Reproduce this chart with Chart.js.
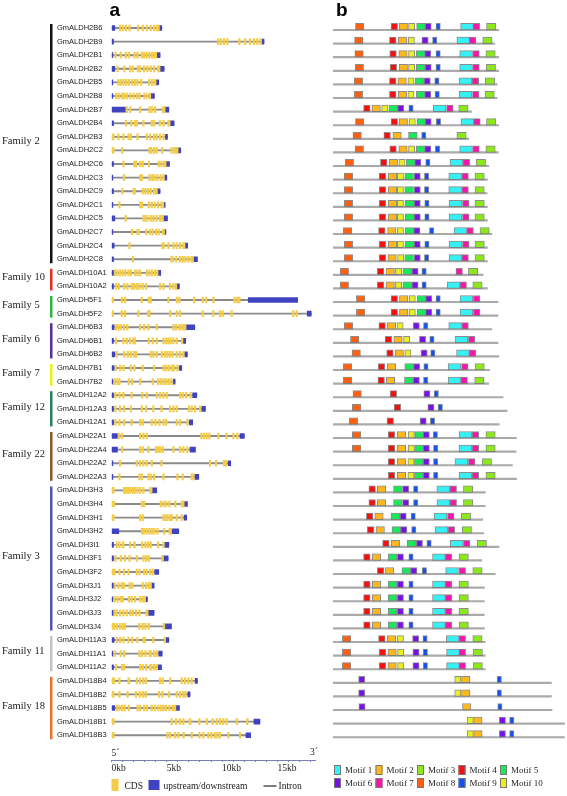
<!DOCTYPE html>
<html>
<head>
<meta charset="utf-8">
<script src="https://cdn.jsdelivr.net/npm/chart.js@4.4.1/dist/chart.umd.min.js"></script>
<style>
html, body { margin: 0; padding: 0; background: #fff; width: 567px; height: 796px; overflow: hidden; }
#gene { position: absolute; left: 0; top: 0; }
#motif { position: absolute; left: 325px; top: 0; }
</style>
</head>
<body>
<canvas id="gene" width="325" height="796"></canvas>
<canvas id="motif" width="242" height="796"></canvas>
<script>
// ALDH gene structure (a) and conserved motifs (b)

const geneNames = [
  'GmALDH2B6', 'GmALDH2B9', 'GmALDH2B1', 'GmALDH2B2', 'GmALDH2B5', 'GmALDH2B8', 'GmALDH2B7', 'GmALDH2B4', 'GmALDH2B3',
  'GmALDH2C2', 'GmALDH2C6', 'GmALDH2C3', 'GmALDH2C9', 'GmALDH2C1', 'GmALDH2C5', 'GmALDH2C7', 'GmALDH2C4', 'GmALDH2C8',
  'GmALDH10A1', 'GmALDH10A2', 'GmALDH5F1', 'GmALDH5F2', 'GmALDH6B3', 'GmALDH6B1', 'GmALDH6B2', 'GmALDH7B1', 'GmALDH7B2',
  'GmALDH12A2', 'GmALDH12A3', 'GmALDH12A1', 'GmALDH22A1', 'GmALDH22A4', 'GmALDH22A2', 'GmALDH22A3',
  'GmALDH3H3', 'GmALDH3H4', 'GmALDH3H1', 'GmALDH3H2', 'GmALDH3I1', 'GmALDH3F1', 'GmALDH3F2', 'GmALDH3J1', 'GmALDH3J2',
  'GmALDH3J3', 'GmALDH3J4', 'GmALDH11A3', 'GmALDH11A1', 'GmALDH11A2',
  'GmALDH18B4', 'GmALDH18B2', 'GmALDH18B5', 'GmALDH18B1', 'GmALDH18B3'
];

const familyNames = ['Family 2', 'Family 10', 'Family 5', 'Family 6', 'Family 7', 'Family 12', 'Family 22', 'Family 3', 'Family 11', 'Family 18'];
const familySizes = [18, 2, 2, 3, 2, 3, 4, 11, 3, 5];
const familyColors = ['#111111', '#e0301e', '#2fb24a', '#5b2d8e', '#f0ee10', '#2a7f62', '#8a5a2a', '#5558a8', '#c4c4c4', '#e8702a'];

// gene length, kb
const geneLength = [4.55, 13.79, 4.39, 4.76, 4.27, 3.88, 5.18, 5.66, 5.06, 6.26, 5.24, 5.0, 4.39, 4.85, 5.06, 4.91, 6.89, 7.77,
  4.45, 6.14, 16.83, 18.06, 7.53, 6.71, 6.86, 6.35, 5.75, 7.71, 8.49, 7.34, 12.01, 7.59, 10.78, 7.89,
  4.09, 6.86, 6.80, 6.08, 5.18, 5.12, 4.27, 3.85, 3.25, 3.85, 5.42, 5.18, 4.58, 4.52, 7.77, 7.10, 6.14, 13.42, 12.58];
// end of upstream region, kb (0 = none)
const utr5End = [0.30, 0.18, 0.12, 0.30, 0.12, 0.12, 1.26, 0.18, 0, 0, 0.18, 0.12, 0.18, 0.12, 0.30, 0.12, 0.24, 0.18,
  0.18, 0.18, 0, 0, 0.24, 0.18, 0.30, 0.24, 0.12, 0.18, 0.18, 0.18, 0.54, 0.54, 0.12, 0.12,
  0, 0, 0, 0.66, 0.18, 0.18, 0, 0.18, 0.12, 0.18, 0, 0.24, 0.12, 0.18, 0, 0, 0.30, 0, 0];
// start of downstream region, kb
const utr3Start = [4.33, 13.61, 4.09, 4.39, 4.03, 3.55, 4.85, 5.30, 4.88, 6.02, 4.94, 4.82, 4.15, 4.73, 4.70, 4.79, 6.65, 7.41,
  4.21, 5.90, 12.37, 17.70, 6.74, 6.50, 6.62, 6.14, 5.60, 7.34, 8.16, 7.04, 11.62, 7.10, 10.54, 7.53,
  3.67, 6.56, 6.56, 5.48, 4.82, 4.70, 3.91, 3.61, 3.13, 3.31, 4.82, 4.94, 4.27, 4.21, 7.56, 6.90, 5.84, 12.88, 12.16];
// CDS exons, kb: a number is a narrow exon centre, a pair is [start, end]
const cdsExons = [
  [0.78, 1.05, 1.32, 1.63, 2.41, 2.83, 3.19, 3.55, 3.85, [4.03, 4.33]],
  [9.66, 9.90, 10.17, 10.47, 11.56, 12.07, 12.52, 12.88, 13.18, 13.48],
  [0.36, 0.84, 1.29, 1.57, 2.08, 2.35, 2.74, 2.95, 3.19, 3.43, 3.67, [3.82, 4.09]],
  [0.54, 1.17, 1.69, 1.93, 2.38, 2.59, 2.95, 3.25, 3.55, 3.85, [4.15, 4.39]],
  [0.63, 0.84, 1.08, 1.32, 1.57, 1.87, 2.11, 2.35, 2.68, 3.40, 3.67, [3.85, 4.03]],
  [0.42, 0.66, 0.93, 1.14, 1.38, 1.69, 1.99, 2.29, 2.53, 2.98, 3.25, [3.43, 3.55]],
  [1.38, 1.69, 2.59, 3.43, 3.64, 3.94, [4.58, 4.85]],
  [1.32, 1.81, 2.14, 2.29, 2.89, 3.64, 3.85, 4.39, 4.70, [5.09, 5.30]],
  [[0, 0.24], 0.63, 1.08, 1.54, 1.75, 2.35, 3.19, 3.49, 3.85, 4.09, 4.39, 4.70],
  [[0, 0.24], 0.96, [3.37, 3.67], 3.85, 4.09, 4.58, 5.42, 5.66, [5.78, 6.02]],
  [1.08, [1.99, 2.29], 2.59, 2.83, 3.37, 4.27, 4.52, [4.70, 4.94]],
  [1.14, [2.53, 2.83], 3.43, 3.67, 3.88, 4.15, 4.45, 4.70],
  [0.99, [1.93, 2.17], 2.83, 3.07, 3.31, 3.55, 3.85, [3.97, 4.15]],
  [0.72, [2.53, 2.83], 3.37, 3.64, 3.91, 4.21, 4.52, [4.64, 4.73]],
  [1.29, [2.83, 3.07], 3.25, 3.55, 3.79, 4.09, 4.39, [4.52, 4.70]],
  [1.84, [2.29, 2.53], 3.13, 3.49, 3.73, 4.03, 4.27, [4.58, 4.79]],
  [1.63, [4.55, 4.79], 5.15, 5.60, 5.90, 6.20, [6.44, 6.65]],
  [1.93, [5.36, 5.60], 5.84, 6.20, 6.44, 6.68, 6.95, [7.16, 7.41]],
  [0.33, 0.54, 0.78, 1.02, 1.26, 1.54, 1.75, 2.14, 2.35, 2.59, 3.19, 3.43, 3.67, 3.94, [4.09, 4.21]],
  [0.42, 0.66, 1.14, 1.44, 1.84, 2.05, 2.29, 2.53, 2.83, 3.13, 4.39, 4.70, 5.30, 5.60, [5.75, 5.90]],
  [[0, 0.18], 0.93, 1.23, 2.74, 3.37, 3.55, 5.15, 5.90, 6.14, 7.46, 8.25, 8.55, 9.21, 11.14, 11.38, 11.56],
  [[0, 0.18], 0.93, 1.23, 2.44, 3.31, 3.43, 5.30, 5.90, 6.20, 8.25, 9.21, 9.81, 10.05, 10.87, 16.43, 16.74],
  [0.39, 0.63, 0.84, 1.14, 1.44, 2.59, 2.95, 3.34, 4.09, 5.60, 5.84, 6.14, 6.35, [6.50, 6.74]],
  [0.42, 1.08, 1.38, 1.69, 1.99, 2.11, 3.37, 3.73, 4.09, 4.70, 4.94, 5.15, 5.36, 5.60, 5.90, 6.38],
  [0.48, 1.14, 1.47, 1.75, 2.05, 2.23, 3.55, 3.79, 4.09, 4.55, 4.85, 5.06, 5.30, 5.54, 5.90, 6.20, 6.50],
  [0.39, 0.78, 1.08, 1.75, 2.08, 2.83, 3.85, 4.70, 4.94, 5.18, 5.45, 5.66, 5.96],
  [0.30, 0.54, 0.72, 1.57, 1.87, 2.59, 3.73, 4.21, 4.45, 4.70, 4.94, 5.18, 5.42],
  [0.36, 0.72, 1.08, 1.81, 2.77, 3.19, 4.09, 4.39, 4.70, 5.00, 6.20, 6.44, 6.74, 7.16],
  [0.36, 0.78, 1.14, 1.75, 2.74, 3.13, 3.79, 4.52, 5.30, 5.60, 5.90, 7.01, 7.25, 7.56, 8.01],
  [0.36, 0.72, 1.14, 1.81, 2.59, 2.83, 3.64, 3.97, 4.33, 4.70, 4.94, 5.90, 6.20, 6.86],
  [0.66, 0.93, 2.59, 2.89, 3.19, 8.13, 8.37, 8.61, 8.85, 9.66, 10.41, 11.02, 11.38],
  [0.96, 2.59, 2.83, 3.34, 4.03, 4.21, 4.39, 4.64, 5.60, 6.20, 6.50, 6.86],
  [0.78, 2.29, 2.59, 2.89, 3.19, 3.64, 4.52, 8.91, 9.45, 10.17, 10.35],
  [0.72, 2.53, 2.74, 3.34, 3.55, 3.85, 4.70, 5.96, 6.44, 7.25, 7.41],
  [[0, 0.24], 1.14, 1.32, 1.51, 1.69, 1.93, 2.11, 2.35, 2.59, 2.89, [3.43, 3.67]],
  [[0, 0.30], 2.74, 2.95, 4.45, 4.70, 4.94, 5.24, 5.78, 6.35, 6.50],
  [[0, 0.24], 2.59, 2.83, 4.70, 4.88, 5.06, 5.30, 5.45, 5.90, 6.35],
  [2.77, 2.95, 3.19, 3.43, 3.64, 3.85, 4.15, 4.76, [5.18, 5.42]],
  [0.48, 0.72, [0.96, 1.14], 1.69, [1.99, 2.17], 2.77, 3.07, 3.31, 3.55, 4.21, 4.70],
  [0.36, 0.84, 1.20, 1.63, 2.29, 2.89, 3.13, 3.37, [4.52, 4.70]],
  [[0, 0.36], 0.72, 1.14, 1.54, 2.29, 2.53, 2.95, 3.19, 3.49, 3.73],
  [0.30, 0.63, 0.93, 1.14, 1.63, 1.87, 2.83, 3.13, 3.37, 3.55],
  [0.27, 0.54, 0.84, 1.02, 1.57, 1.81, 2.14, 2.59, 2.83, 3.01],
  [0.27, 0.48, 0.78, 1.08, 1.38, 1.69, 1.93, 2.23, 2.53, [3.10, 3.31]],
  [[0, 0.30], 0.48, 0.78, 1.02, 1.20, 2.53, 2.83, 3.07, 3.37, [4.67, 4.82]],
  [0.48, 0.78, 1.08, 1.54, 1.87, 2.35, [2.83, 3.07], 3.79, 4.82],
  [0.30, 0.84, 1.14, 2.53, 2.77, 3.07, [3.37, 3.61], 3.85, 4.09],
  [0.42, 0.96, 1.14, 2.59, 2.83, 3.13, [3.43, 3.67], 3.85, 4.09],
  [[0, 0.30], 0.72, [1.47, 1.66], 2.29, 2.59, 2.89, 3.13, 4.39, 4.64, 5.30, 6.35, 6.65, 6.95, 7.25],
  [[0, 0.24], 0.72, 1.45, 2.20, 2.55, 2.85, 3.10, 4.30, 4.60, 5.20, 5.90, 6.20, 6.50, 6.70],
  [0.48, 0.72, 0.96, 1.20, 1.57, 2.35, 2.59, 2.95, 3.19, 3.64, 3.94, 4.24, 4.49, 4.70, 4.94, 5.24, 5.54, 5.75],
  [[0, 0.24], 5.45, 5.84, 6.20, 6.50, [7.01, 7.19], 7.95, 8.61, 9.15, 9.51, 9.81, 10.11, 10.41, 11.32, 12.28],
  [[0, 0.24], 5.06, 5.30, 5.75, 6.05, [6.44, 6.59], 7.25, 7.95, 8.31, 8.76, 9.03, 9.36, 9.57, 9.81, 10.57, 11.62]
];
const kbMax = 18.4;
const kbLabelStep = 5;

// protein length, aa
const proteinLength = [531, 518, 531, 531, 526, 526, 444, 531, 435, 530, 499, 495, 494, 495, 495, 509, 495, 495,
  481, 495, 529, 529, 509, 529, 532, 502, 499, 545, 558, 533, 588, 587, 575, 588,
  488, 488, 480, 483, 532, 477, 520, 485, 485, 485, 485, 488, 488, 488, 700, 700, 702, 742, 742];
const motifNames = ['Motif 1', 'Motif 2', 'Motif 3', 'Motif 4', 'Motif 5', 'Motif 6', 'Motif 7', 'Motif 8', 'Motif 9', 'Motif 10'];
const motifColors = ['#35f0f5', '#ffb81c', '#8ce81a', '#f51010', '#18e85a', '#7a10e8', '#f515a8', '#ff6010', '#1050f0', '#e8f020'];
const motifWidths = [41, 27, 30, 21, 28, 20, 21, 27, 14, 20];
// [motif number, start aa] per protein
const motifSites = [
  [[8, 72], [4, 186], [2, 212], [10, 242], [5, 268], [6, 295], [9, 330], [1, 409], [7, 449], [3, 492]],
  [[8, 69], [4, 181], [2, 209], [10, 241], [6, 285], [9, 319], [1, 397], [7, 437], [3, 480]],
  [[8, 70], [4, 182], [2, 211], [10, 242], [5, 267], [6, 294], [9, 330], [1, 406], [7, 448], [3, 490]],
  [[8, 71], [4, 183], [2, 212], [10, 242], [5, 267], [6, 295], [9, 330], [1, 406], [7, 448], [3, 491]],
  [[8, 68], [4, 181], [2, 208], [10, 240], [5, 264], [6, 292], [9, 326], [1, 404], [7, 446], [3, 488]],
  [[8, 68], [4, 181], [2, 209], [10, 240], [5, 267], [6, 294], [9, 327], [1, 404], [7, 447], [3, 487]],
  [[4, 98], [2, 125], [10, 156], [5, 180], [6, 207], [9, 243], [1, 321], [7, 364], [3, 403]],
  [[8, 72], [4, 186], [2, 212], [10, 244], [5, 269], [6, 295], [9, 331], [1, 410], [7, 451], [3, 492]],
  [[8, 64], [4, 163], [2, 192], [5, 242], [9, 284], [3, 397]],
  [[8, 71], [4, 182], [2, 211], [10, 242], [5, 267], [6, 294], [9, 328], [1, 406], [7, 448], [3, 490]],
  [[8, 39], [4, 152], [2, 180], [10, 211], [5, 235], [6, 262], [9, 297], [1, 375], [7, 417], [3, 459]],
  [[8, 36], [4, 148], [2, 177], [10, 206], [5, 230], [6, 260], [9, 293], [1, 371], [7, 413], [3, 455]],
  [[8, 36], [4, 148], [2, 177], [10, 206], [5, 230], [6, 260], [9, 293], [1, 371], [7, 413], [3, 455]],
  [[8, 36], [4, 148], [2, 177], [10, 206], [5, 231], [6, 260], [9, 294], [1, 372], [7, 415], [3, 455]],
  [[8, 36], [4, 148], [2, 177], [10, 206], [5, 231], [6, 260], [9, 294], [1, 372], [7, 415], [3, 455]],
  [[8, 33], [4, 146], [2, 175], [10, 206], [5, 231], [6, 259], [9, 309], [1, 388], [7, 429], [3, 471]],
  [[8, 36], [4, 148], [2, 177], [10, 206], [5, 231], [6, 260], [9, 294], [1, 372], [7, 415], [3, 455]],
  [[8, 36], [4, 148], [2, 176], [10, 207], [5, 230], [6, 260], [9, 293], [1, 372], [7, 413], [3, 455]],
  [[8, 23], [4, 142], [2, 170], [10, 200], [5, 224], [6, 253], [9, 285], [7, 394], [3, 434]],
  [[8, 23], [4, 142], [2, 170], [10, 200], [5, 224], [6, 253], [9, 285], [1, 366], [7, 407], [3, 448]],
  [[8, 75], [4, 186], [2, 213], [10, 244], [5, 270], [6, 297], [9, 330], [1, 407], [7, 450]],
  [[8, 75], [4, 186], [2, 213], [10, 244], [5, 270], [6, 297], [9, 330], [1, 407], [7, 450]],
  [[8, 36], [4, 147], [2, 174], [10, 205], [6, 257], [9, 290], [1, 371], [7, 413]],
  [[8, 56], [4, 167], [2, 195], [10, 226], [6, 277], [9, 310], [1, 391], [7, 434]],
  [[8, 61], [4, 172], [2, 199], [10, 230], [6, 282], [9, 313], [1, 396], [7, 437]],
  [[8, 33], [4, 145], [2, 174], [5, 230], [6, 258], [9, 291], [1, 369], [7, 412], [3, 455]],
  [[8, 33], [4, 144], [2, 171], [5, 229], [6, 257], [9, 290], [1, 369], [7, 410], [3, 454]],
  [[8, 64], [4, 183], [6, 291], [9, 324]],
  [[8, 62], [4, 196], [6, 304], [9, 337]],
  [[8, 52], [4, 173], [6, 279], [9, 312]],
  [[8, 62], [4, 177], [2, 206], [10, 241], [5, 262], [6, 289], [9, 321], [1, 404], [7, 446], [3, 490]],
  [[8, 62], [4, 177], [2, 206], [10, 241], [5, 262], [6, 289], [9, 322], [1, 404], [7, 446], [3, 490]],
  [[4, 177], [2, 206], [10, 240], [5, 261], [6, 289], [9, 322], [1, 391], [7, 434], [3, 478]],
  [[4, 177], [2, 206], [10, 240], [5, 261], [6, 289], [9, 322], [1, 404], [7, 446], [3, 490]],
  [[4, 115], [2, 142], [5, 194], [6, 223], [9, 258], [1, 333], [7, 375], [3, 418]],
  [[4, 115], [2, 142], [5, 194], [6, 223], [9, 258], [1, 333], [7, 375], [3, 418]],
  [[4, 107], [2, 134], [5, 186], [6, 215], [9, 250], [1, 324], [7, 367], [3, 411]],
  [[4, 110], [2, 138], [5, 189], [6, 217], [9, 252], [1, 327], [7, 369], [3, 414]],
  [[4, 159], [2, 187], [5, 238], [6, 267], [9, 301], [1, 376], [7, 418], [3, 462]],
  [[4, 98], [2, 126], [5, 177], [6, 206], [9, 243], [1, 319], [7, 360], [3, 404]],
  [[4, 142], [2, 168], [5, 221], [6, 249], [9, 286], [1, 361], [7, 404], [3, 448]],
  [[4, 98], [2, 126], [5, 177], [6, 206], [9, 243], [1, 319], [7, 360], [3, 404]],
  [[4, 98], [2, 126], [5, 177], [6, 206], [9, 243], [1, 319], [7, 360], [3, 404]],
  [[4, 98], [2, 126], [5, 177], [6, 206], [9, 243], [1, 319], [7, 360], [3, 404]],
  [[4, 98], [2, 126], [5, 177], [6, 206], [9, 243], [1, 319], [7, 360], [3, 404]],
  [[8, 30], [4, 146], [2, 174], [10, 206], [6, 255], [9, 288], [1, 363], [7, 404], [3, 448]],
  [[8, 30], [4, 148], [2, 176], [10, 207], [6, 256], [9, 289], [1, 364], [7, 404], [3, 449]],
  [[8, 30], [4, 148], [2, 176], [10, 207], [6, 256], [9, 289], [1, 364], [7, 404], [3, 449]],
  [[6, 82], [10, 390], [2, 412], [9, 526]],
  [[6, 82], [10, 390], [2, 412], [9, 526]],
  [[6, 83], [2, 415], [9, 528]],
  [[10, 430], [2, 451], [6, 533], [9, 566]],
  [[10, 430], [2, 451], [6, 533], [9, 566]]
];
const aaMax = 750;

const SERIF = '"Liberation Serif", "Times New Roman", serif';
const SANS = '"Liberation Sans", Arial, sans-serif';
const ROW_MIN = -0.5, ROW_MAX = 53.82;
const EXON_HALF = 0.07;

// ---------- panel a ----------
const intronData = geneNames.map((n, i) => ({ x: [0, geneLength[i]], y: i }));
const utrData = [];
geneNames.forEach((n, i) => {
  if (utr5End[i] > 0) utrData.push({ x: [0, utr5End[i]], y: i });
  utrData.push({ x: [utr3Start[i], geneLength[i]], y: i });
});
const cdsData = [];
cdsExons.forEach((list, i) => {
  list.forEach(e => {
    const range = Array.isArray(e) ? e : [e - EXON_HALF, e + EXON_HALF];
    cdsData.push({ x: range, y: i });
  });
});

const geneDecor = {
  id: 'geneDecor',
  afterDraw(chart) {
    const { ctx, chartArea } = chart;
    const y = chart.scales.y, x = chart.scales.x;
    ctx.save();
    ctx.fillStyle = '#000';
    ctx.font = 'bold 19px ' + SANS;
    ctx.textBaseline = 'alphabetic';
    ctx.fillText('a', chartArea.left - 2, 16);

    // family brackets
    let start = 0;
    familyNames.forEach((name, f) => {
      const end = start + familySizes[f] - 1;
      const top = y.getPixelForValue(start) - 4;
      const bottom = y.getPixelForValue(end) + 4;
      ctx.fillStyle = familyColors[f];
      ctx.fillRect(50, top, 2.5, bottom - top);
      ctx.fillStyle = '#222';
      ctx.font = '10.5px ' + SERIF;
      ctx.textBaseline = 'middle';
      ctx.textAlign = 'left';
      ctx.fillText(name, 2, (top + bottom) / 2 - 2);
      start = end + 1;
    });

    // 5' / 3' marks
    ctx.font = '9.5px ' + SERIF;
    ctx.textBaseline = 'alphabetic';
    ctx.fillStyle = '#222';
    ctx.fillText('5\u00B4', x.getPixelForValue(0), chartArea.bottom - 4);
    ctx.textAlign = 'right';
    ctx.fillText('3\u00B4', x.getPixelForValue(kbMax) + 3, chartArea.bottom - 5);

    // legend
    const lx = chartArea.left, ly = chartArea.bottom + 25;
    ctx.textAlign = 'left';
    ctx.textBaseline = 'middle';
    ctx.fillStyle = '#f4cc45';
    ctx.fillRect(lx, ly - 6, 7, 12);
    ctx.fillStyle = '#222';
    ctx.fillText('CDS', lx + 13, ly + 1);
    ctx.fillStyle = '#3f43c0';
    ctx.fillRect(lx + 37, ly - 5, 11, 10);
    ctx.fillStyle = '#222';
    ctx.fillText('upstream/downstream', lx + 52, ly + 1);
    ctx.fillStyle = '#7d7d7d';
    ctx.fillRect(lx + 152, ly, 13, 2);
    ctx.fillStyle = '#222';
    ctx.fillText('Intron', lx + 167, ly + 1);
    ctx.restore();
  }
};

const rowTicks = s => { s.ticks = geneNames.map((n, i) => ({ value: i })); };

new Chart(document.getElementById('gene'), {
  type: 'bar',
  data: {
    datasets: [
      { label: 'Intron', data: intronData, backgroundColor: '#8a8a8a', barThickness: 1.2, grouped: false, order: 3 },
      { label: 'upstream/downstream', data: utrData, backgroundColor: '#3f43c0', barThickness: 5, grouped: false, order: 2 },
      { label: 'CDS', data: cdsData, backgroundColor: '#f4cc45', barThickness: 6, grouped: false, order: 1 }
    ]
  },
  options: {
    indexAxis: 'y',
    responsive: false,
    animation: false,
    events: [],
    layout: { padding: { left: 57, right: 10, top: 21.2, bottom: 0 } },
    plugins: { legend: { display: false }, tooltip: { enabled: false } },
    scales: {
      y: {
        type: 'linear',
        reverse: true,
        offset: false,
        min: ROW_MIN,
        max: ROW_MAX,
        grid: { display: false },
        border: { display: false },
        afterBuildTicks: rowTicks,
        afterFit: s => { s.width = 54.5; },
        ticks: {
          autoSkip: false,
          crossAlign: 'far',
          padding: 0,
          color: '#222',
          font: { family: SANS, size: 7.5 },
          callback: v => geneNames[v] || ''
        }
      },
      x: {
        type: 'linear',
        min: 0,
        max: kbMax,
        offset: false,
        afterBuildTicks: s => {
          const t = [];
          for (let v = 0; v <= kbMax; v++) t.push({ value: v });
          s.ticks = t;
        },
        afterFit: s => { s.height = 36; },
        grid: { drawOnChartArea: false, drawTicks: true, tickLength: 2, color: '#7a7fb0' },
        border: { color: '#7a7fb0', width: 1 },
        ticks: {
          autoSkip: false,
          maxRotation: 0,
          align: 'start',
          padding: 1,
          color: '#222',
          font: { family: SERIF, size: 9.5 },
          callback: v => (v % kbLabelStep === 0) ? v + 'kb' : ''
        }
      }
    }
  },
  plugins: [geneDecor]
});

// ---------- panel b ----------
const lineData = geneNames.map((n, i) => ({ x: [0, proteinLength[i]], y: i }));
const motifDatasets = motifNames.map((name, k) => {
  const data = [];
  motifSites.forEach((sites, i) => {
    sites.forEach(([m, s]) => {
      if (m === k + 1) data.push({ x: [s, s + motifWidths[k]], y: i });
    });
  });
  return {
    label: name, data, backgroundColor: motifColors[k],
    borderColor: 'rgba(120,120,120,0.85)', borderWidth: 1, borderSkipped: false,
    barThickness: 6.5, grouped: false, yAxisID: 'y', order: 1
  };
});

const motifDecor = {
  id: 'motifDecor',
  afterDraw(chart) {
    const { ctx, chartArea } = chart;
    ctx.save();
    ctx.fillStyle = '#000';
    ctx.font = 'bold 19px ' + SANS;
    ctx.fillText('b', chartArea.left + 3, 16);

    ctx.font = '9px ' + SERIF;
    ctx.textBaseline = 'middle';
    motifNames.forEach((name, k) => {
      const col = k % 5, row = Math.floor(k / 5);
      const bx = chartArea.left + 1 + col * 41.5;
      const by = chartArea.bottom + 10 + row * 13;
      ctx.fillStyle = motifColors[k];
      ctx.fillRect(bx, by - 5, 7, 10);
      ctx.strokeStyle = '#777';
      ctx.lineWidth = 1;
      ctx.strokeRect(bx + 0.5, by - 4.5, 6, 9);
      ctx.fillStyle = '#222';
      ctx.fillText(name, bx + 11, by + 1);
    });
    ctx.restore();
  }
};

new Chart(document.getElementById('motif'), {
  type: 'bar',
  data: {
    datasets: [
      { label: 'protein', data: lineData, backgroundColor: '#aaaaaa', barThickness: 1.5, grouped: false, yAxisID: 'yLine', order: 2 },
      ...motifDatasets
    ]
  },
  options: {
    indexAxis: 'y',
    responsive: false,
    animation: false,
    events: [],
    layout: { padding: { left: 8, right: 0, top: 21.2, bottom: 36 } },
    plugins: { legend: { display: false }, tooltip: { enabled: false } },
    scales: {
      x: { type: 'linear', min: 0, max: aaMax, offset: false, display: false },
      y: { type: 'linear', reverse: true, offset: false, min: ROW_MIN + 0.096, max: ROW_MAX + 0.096, display: false },
      yLine: { type: 'linear', reverse: true, offset: false, min: ROW_MIN - 0.147, max: ROW_MAX - 0.147, display: false }
    }
  },
  plugins: [motifDecor]
});
</script>
</body>
</html>
